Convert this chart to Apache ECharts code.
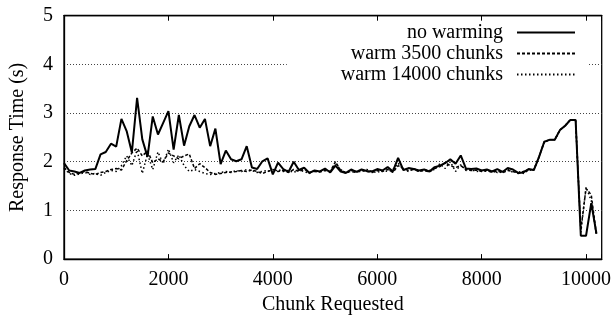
<!DOCTYPE html>
<html>
<head>
<meta charset="utf-8">
<script src="https://cdn.jsdelivr.net/npm/echarts@6/dist/echarts.min.js"></script>
<style>
  html, body { margin: 0; padding: 0; background: #fff; }
  #chart { width: 615px; height: 320px; }
</style>
</head>
<body>
<div id="chart"></div>
<script>
// chunk index of each sample
const chunks = [
    0, 100, 200, 300, 400, 500, 600, 700, 800, 900,
    1000, 1100, 1200, 1300, 1400, 1500, 1600, 1700, 1800, 1900,
    2000, 2100, 2200, 2300, 2400, 2500, 2600, 2700, 2800, 2900,
    3000, 3100, 3200, 3300, 3400, 3500, 3600, 3700, 3800, 3900,
    4000, 4100, 4200, 4300, 4400, 4500, 4600, 4700, 4800, 4900,
    5000, 5100, 5200, 5300, 5400, 5500, 5600, 5700, 5800, 5900,
    6000, 6100, 6200, 6300, 6400, 6500, 6600, 6700, 6800, 6900,
    7000, 7100, 7200, 7300, 7400, 7500, 7600, 7700, 7800, 7900,
    8000, 8100, 8200, 8300, 8400, 8500, 8600, 8700, 8800, 8900,
    9000, 9100, 9200, 9300, 9400, 9500, 9600, 9700, 9800, 9900,
    10000, 10100, 10200
]

const noWarming = [
    1.97, 1.82, 1.80, 1.77, 1.82, 1.84, 1.85, 2.15, 2.20, 2.37,
    2.31, 2.88, 2.63, 2.19, 3.31, 2.46, 2.10, 2.93, 2.56, 2.80,
    3.04, 2.25, 2.96, 2.33, 2.73, 2.96, 2.70, 2.88, 2.32, 2.68,
    1.95, 2.23, 2.05, 2.01, 2.05, 2.32, 1.88, 1.85, 2.01, 2.07,
    1.74, 1.98, 1.85, 1.79, 2.00, 1.83, 1.88, 1.77, 1.82, 1.80,
    1.86, 1.78, 1.92, 1.80, 1.77, 1.84, 1.79, 1.84, 1.81, 1.80,
    1.85, 1.82, 1.89, 1.80, 2.08, 1.83, 1.87, 1.85, 1.82, 1.84,
    1.80, 1.89, 1.92, 1.97, 2.05, 1.96, 2.13, 1.86, 1.85, 1.86,
    1.82, 1.84, 1.80, 1.85, 1.79, 1.87, 1.84, 1.77, 1.78, 1.85,
    1.83, 2.10, 2.41, 2.45, 2.45, 2.65, 2.74, 2.86, 2.86, 0.48,
    0.48, 1.15, 0.52
]

const warm3500 = [
    1.88, 1.78, 1.74, 1.77, 1.80, 1.76, 1.74, 1.78, 1.80, 1.84,
    1.86, 1.83, 2.02, 2.18, 2.28, 2.12, 2.22, 1.98, 2.06, 2.00,
    2.18, 2.12, 2.06, 2.12, 2.16, 1.86, 1.96, 1.88, 1.78, 1.74,
    1.76, 1.78, 1.79, 1.80, 1.82, 1.80, 1.83, 1.80, 1.76, 1.80,
    1.84, 1.80, 1.82, 1.78, 1.84, 1.80, 1.85, 1.78, 1.80, 1.79,
    1.82, 1.80, 2.00, 1.82, 1.78, 1.80, 1.78, 1.82, 1.80, 1.78,
    1.82, 1.80, 1.84, 1.78, 1.92, 1.86, 1.82, 1.84, 1.80, 1.82,
    1.79, 1.86, 1.90, 1.98, 1.92, 1.88, 1.92, 1.84, 1.82, 1.83,
    1.80, 1.82, 1.78, 1.81, 1.77, 1.82, 1.80, 1.76, 1.80, 1.84,
    1.83, 2.10, 2.41, 2.45, 2.45, 2.65, 2.74, 2.86, 2.86, 0.60,
    1.45, 1.32, 0.50
]

const warm14000 = [
    1.86, 1.76, 1.72, 1.75, 1.78, 1.74, 1.76, 1.72, 1.78, 1.82,
    1.80, 1.92, 2.12, 1.92, 2.24, 1.76, 2.16, 1.84, 2.20, 1.96,
    2.26, 1.98, 2.14, 1.92, 1.80, 1.84, 1.80, 1.76, 1.74, 1.76,
    1.78, 1.80, 1.78, 1.82, 1.80, 1.84, 1.82, 1.78, 1.80, 1.82,
    1.78, 1.84, 1.80, 1.82, 1.78, 1.83, 1.80, 1.76, 1.82, 1.80,
    1.84, 1.80, 1.96, 1.84, 1.76, 1.82, 1.80, 1.80, 1.84, 1.80,
    1.78, 1.82, 1.80, 1.84, 1.97, 1.84, 1.80, 1.86, 1.80, 1.84,
    1.82, 1.84, 1.96, 1.86, 2.00, 1.80, 1.94, 1.82, 1.84, 1.80,
    1.82, 1.80, 1.82, 1.78, 1.80, 1.84, 1.78, 1.80, 1.76, 1.82,
    1.84, 2.10, 2.41, 2.45, 2.45, 2.65, 2.74, 2.86, 2.86, 0.55,
    1.48, 1.20, 0.48
]

const seriesNames = ['no warming', 'warm 3500 chunks', 'warm 14000 chunks']
const yTicks = [0, 1, 2, 3, 4, 5]

const font = 'Liberation Serif'

function pairs(vals) {
    return chunks.map((c, i) => [c, vals[i]])
}

const chart = echarts.init(document.getElementById('chart'), null, { renderer: 'canvas' })

chart.setOption({
    backgroundColor: '#fff',
    animation: false,
    color: ['#000', '#000', '#000'],
    textStyle: { fontFamily: font, color: '#000' },
    grid: {
        left: 63.5, right: 13.3, top: 15.7, bottom: 52.7,
        show: true, borderColor: '#000', borderWidth: 1.3,
        backgroundColor: 'transparent'
    },
    legend: {
        orient: 'vertical',
        right: 27,
        top: 18,
        align: 'right',
        itemWidth: 58,
        itemHeight: 14,
        itemGap: 0,
        padding: [4, 12, 6, 54],
        backgroundColor: '#fff',
        itemStyle: { opacity: 0 },
        textStyle: {
            fontFamily: font, fontSize: 20, color: '#000',
            lineHeight: 21, padding: [0, 9, 0, 0]
        },
        data: seriesNames
    },
    xAxis: [{
        type: 'value',
        min: 0, max: 10300, interval: 2000,
        name: 'Chunk Requested',
        nameLocation: 'middle',
        nameGap: 32,
        nameTextStyle: { fontFamily: font, fontSize: 20, color: '#000' },
        axisLine: { show: true, lineStyle: { color: '#000', width: 1.3 } },
        axisTick: { show: true, inside: true, length: 5, lineStyle: { color: '#000' } },
        axisLabel: {
            fontFamily: font, fontSize: 20, color: '#000', margin: 11,
            formatter: v => (v % 2000 === 0 ? String(v) : '')
        },
        splitLine: { show: false }
    }, {
        type: 'value',
        position: 'top',
        min: 0, max: 10300, interval: 2000,
        z: 10,
        axisLine: { show: true, lineStyle: { color: '#000', width: 1.3 } },
        axisTick: { show: true, inside: true, length: 5, lineStyle: { color: '#000' } },
        axisLabel: { show: false },
        splitLine: { show: false }
    }],
    yAxis: {
        type: 'value',
        min: yTicks[0], max: yTicks[yTicks.length - 1], interval: 1,
        name: 'Response Time (s)',
        nameLocation: 'middle',
        nameGap: 36,
        nameTextStyle: { fontFamily: font, fontSize: 20, color: '#000' },
        axisLine: { show: true, lineStyle: { color: '#000', width: 1.3 } },
        axisTick: { show: false },
        axisLabel: { fontFamily: font, fontSize: 20, color: '#000', margin: 11 },
        splitLine: { show: true, lineStyle: { color: '#444', width: 1, type: [1, 2] } }
    },
    series: [{
        name: seriesNames[0],
        type: 'line',
        data: pairs(noWarming),
        symbol: 'none',
        z: 5,
        lineStyle: { color: '#000', width: 2, type: 'solid' }
    }, {
        name: seriesNames[1],
        type: 'line',
        data: pairs(warm3500),
        symbol: 'none',
        z: 4,
        lineStyle: { color: '#000', width: 1.5, type: [3, 2] }
    }, {
        name: seriesNames[2],
        type: 'line',
        data: pairs(warm14000),
        symbol: 'none',
        z: 3,
        lineStyle: { color: '#000', width: 1.5, type: [1.5, 2.5] }
    }]
})
</script>
</body>
</html>
